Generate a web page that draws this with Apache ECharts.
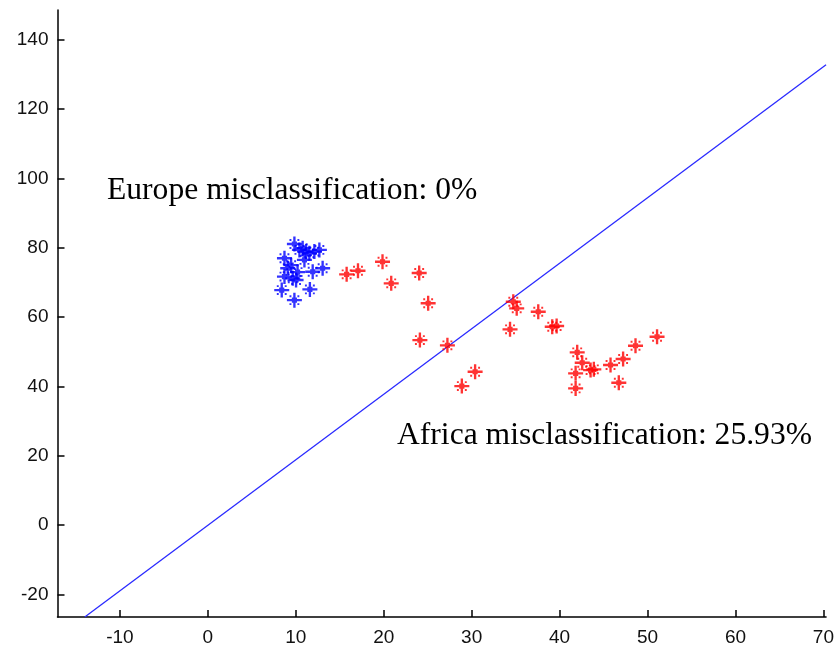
<!DOCTYPE html>
<html>
<head>
<meta charset="utf-8">
<script src="https://cdn.jsdelivr.net/npm/echarts@6/dist/echarts.min.js"></script>
<style>html,body{margin:0;padding:0;background:#fff}#c{width:837px;height:648px}</style>
</head>
<body>
<div id="c"></div>
<script>
// ---- data ----
var europeX = [9.84, 10.41, 10.78, 11.17, 11.54, 12.11, 12.68, 10.98, 8.71, 9.47, 9.08, 8.71, 9.65, 10.03, 11.92, 13.05, 8.40, 11.60, 9.84, 10.20];
var europeY = [81.1, 79.4, 79.9, 78.9, 78.4, 78.9, 79.4, 76.5, 77.0, 75.0, 74.1, 71.7, 71.2, 70.7, 73.1, 74.1, 67.8, 68.0, 64.9, 73.0];
var africaX = [15.78, 17.07, 19.86, 20.85, 24.03, 25.05, 24.11, 27.24, 30.39, 28.88, 34.73, 35.12, 34.36, 37.57, 39.16, 39.66, 42.00, 42.57, 41.82, 41.82, 43.52, 43.89, 45.79, 47.22, 46.73, 48.63, 51.08];
var africaY = [72.35, 73.39, 75.99, 69.76, 72.73, 64.00, 53.39, 51.86, 44.24, 40.12, 64.44, 62.54, 56.48, 61.56, 57.23, 57.43, 49.84, 46.84, 43.78, 39.45, 44.73, 44.94, 46.18, 47.91, 41.07, 51.75, 54.34];
var boundaryX = [-14.0, 70.3];
var boundaryY = [-26.5, 132.8];
var xTicks = [-10, 0, 10, 20, 30, 40, 50, 60, 70];
var yTicks = [-20, 0, 20, 40, 60, 80, 100, 120, 140];
var europeLabel = 'Europe misclassification: 0%';
var africaLabel = 'Africa misclassification: 25.93%';

function zip(a, b) { return a.map(function (v, i) { return [v, b[i]]; }); }

var star = 'path://M0 5.9L14 5.9L14 8.1L0 8.1Z M5.9 0L8.1 0L8.1 14L5.9 14Z M4.6 4.6L9.4 4.6L9.4 9.4L4.6 9.4Z M2.4 2.4L4.2 2.4L4.2 4.2L2.4 4.2Z M9.8 2.4L11.6 2.4L11.6 4.2L9.8 4.2Z M2.4 9.8L4.2 9.8L4.2 11.6L2.4 11.6Z M9.8 9.8L11.6 9.8L11.6 11.6L9.8 11.6Z';

var chart = echarts.init(document.getElementById('c'), null, {renderer: 'canvas'});
var labelStyle = {color: '#111', fontFamily: 'Liberation Sans, Arial, sans-serif', fontSize: 19};
chart.setOption({
  animation: false,
  backgroundColor: '#fff',
  grid: {left: 57.5, right: 9.4, top: 10, bottom: 31, containLabel: false},
  xAxis: {
    type: 'value', min: -17.1, max: 70.3,
    axisLine: {onZero: false, lineStyle: {color: '#000', width: 1.5}},
    axisTick: {inside: true, length: 7, lineStyle: {color: '#000', width: 1.5}, customValues: xTicks},
    axisLabel: Object.assign({margin: 11, customValues: xTicks}, labelStyle),
    splitLine: {show: false}
  },
  yAxis: {
    type: 'value', min: -26.5, max: 148.6,
    axisLine: {show: true, onZero: false, lineStyle: {color: '#000', width: 1.5}},
    axisTick: {show: true, inside: true, length: 7, lineStyle: {color: '#000', width: 1.5}, customValues: yTicks},
    axisLabel: Object.assign({margin: 9, customValues: yTicks}, labelStyle),
    splitLine: {show: false}
  },
  series: [
    {
      type: 'line', data: zip(boundaryX, boundaryY), showSymbol: false, symbol: 'none',
      lineStyle: {color: '#2a2aff', width: 1.3}, z: 1
    },
    {
      type: 'scatter', data: zip(europeX, europeY), symbol: star, symbolSize: 15,
      itemStyle: {color: '#0000ff'}, z: 3
    },
    {
      type: 'scatter', data: zip(africaX, africaY), symbol: star, symbolSize: 15,
      itemStyle: {color: '#ff0000'}, z: 3
    }
  ],
  graphic: [
    {type: 'text', left: 107, top: 175, style: {text: europeLabel, font: '31.6px "Liberation Serif", "Times New Roman", serif', fill: '#000'}},
    {type: 'text', left: 397, top: 420, style: {text: africaLabel, font: '31.6px "Liberation Serif", "Times New Roman", serif', fill: '#000'}}
  ]
});
</script>
</body>
</html>
